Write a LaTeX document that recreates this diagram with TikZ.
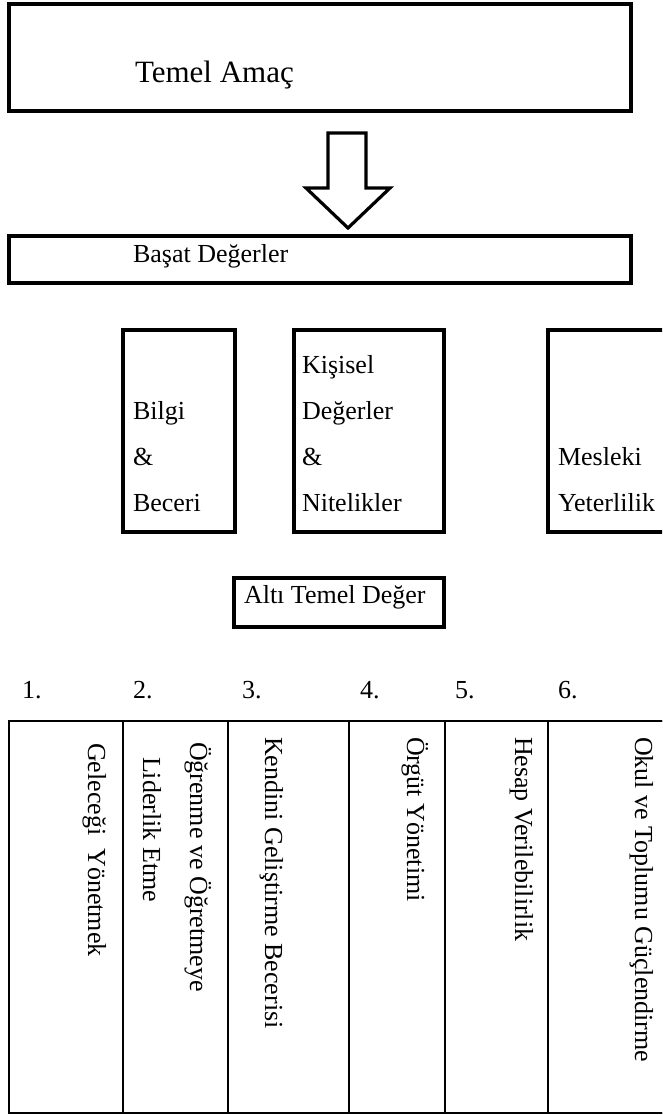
\documentclass[tikz,border=0pt]{standalone}
\usepackage{fontspec}
\setmainfont{Liberation Serif}
\begin{document}
\begin{tikzpicture}[x=1pt,y=-1pt,
  frame/.style={draw, line width=3.2pt, inner sep=0pt, outer sep=0pt, anchor=north west},
  cell/.style={draw, line width=2pt, inner sep=0pt, outer sep=0pt, anchor=north west, minimum height=392pt},
  lbl/.style={inner sep=0pt, outer sep=0pt, anchor=base west, font=\fontsize{26}{30}\selectfont},
  biglbl/.style={lbl, font=\fontsize{31}{36}\selectfont},
  vlbl/.style={lbl, rotate=-90}
]
\useasboundingbox (0,0) rectangle (662,1115);
\clip (0,0) rectangle (662,1115);

% top box
\node[frame, minimum width=622pt, minimum height=107pt] (amac) at (9,4) {};
\node[biglbl] (amactxt) at (135,83) {Temel Amaç};

% block arrow
\draw[line width=3.2pt, line join=miter, fill=white]
  (328,133) -- (366,133) -- (366,188) -- (390,188) -- (348,228) -- (306,188) -- (328,188) -- cycle;

% Basat Degerler
\node[frame, minimum width=622pt, minimum height=47pt] (basat) at (9,236) {};
\node[lbl] (basattxt) at (133,262) {Başat Değerler};

% three boxes
\node[frame, minimum width=112pt, minimum height=202pt] (bilgi) at (123,330) {};
\node[lbl] (b1) at (133,419) {Bilgi};
\node[lbl] (b2) at (133,465) {\&};
\node[lbl] (b3) at (133,511) {Beceri};

\node[frame, minimum width=150pt, minimum height=202pt] (kisisel) at (294,330) {};
\node[lbl] (k1) at (302,373) {Kişisel};
\node[lbl] (k2) at (302,419) {Değerler};
\node[lbl] (k3) at (302,465) {\&};
\node[lbl] (k4) at (302,511) {Nitelikler};

\node[frame, minimum width=160pt, minimum height=202pt] (mesleki) at (548,330) {};
\node[lbl] (m1) at (558,465) {Mesleki};
\node[lbl] (m2) at (558,511) {Yeterlilik};

% Alti Temel Deger
\node[frame, minimum width=210pt, minimum height=49pt] (alti) at (234,578) {};
\node[lbl] (altitxt) at (244,603) {Altı Temel Değer};

% numbers
\node[lbl] (n1) at (22,698) {1.};
\node[lbl] (n2) at (133,698) {2.};
\node[lbl] (n3) at (242,698) {3.};
\node[lbl] (n4) at (360,698) {4.};
\node[lbl] (n5) at (455,698) {5.};
\node[lbl] (n6) at (558,698) {6.};

% table
\node[cell, minimum width=114pt] (c1) at (9,721) {};
\node[cell, minimum width=105pt] (c2) at (123,721) {};
\node[cell, minimum width=121pt] (c3) at (228,721) {};
\node[cell, minimum width=96pt] (c4) at (349,721) {};
\node[cell, minimum width=103pt] (c5) at (445,721) {};
\node[cell, minimum width=160pt] (c6) at (548,721) {};
\node[frame, line width=2.8pt, minimum width=699pt, minimum height=392pt] (table) at (9,721) {};

\node[vlbl] (t1) at (88,743) {Geleceği~~Yönetmek};
\node[vlbl] (t2a) at (190,742) {Öğrenme ve Öğretmeye};
\node[vlbl] (t2b) at (143,757) {Liderlik Etme};
\node[vlbl] (t3) at (265,737) {Kendini Geliştirme Becerisi};
\node[vlbl] (t4) at (407,737) {Örgüt Yönetimi};
\node[vlbl] (t5) at (515,737) {Hesap Verilebilirlik};
\node[vlbl] (t6) at (635,737) {Okul ve Toplumu Güçlendirme};
\end{tikzpicture}
\end{document}
